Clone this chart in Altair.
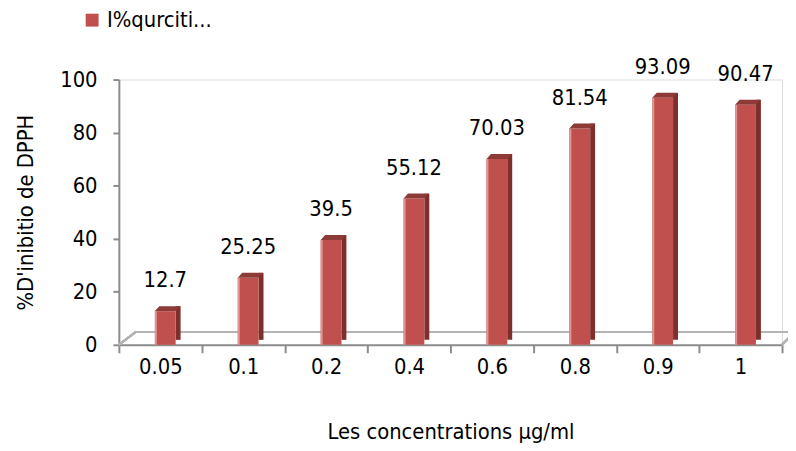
import altair as alt
import pandas as pd

categories = ["0.05", "0.1", "0.2", "0.4", "0.6", "0.8", "0.9", "1"]
values = [12.7, 25.25, 39.5, 55.12, 70.03, 81.54, 93.09, 90.47]
labels = ["12.7", "25.25", "39.5", "55.12", "70.03", "81.54", "93.09", "90.47"]
series_name = "I%qurciti..."

df = pd.DataFrame({"conc": categories, "val": values, "lab": labels, "serie": series_name})

FONT = "Liberation Sans Narrow, DejaVu Sans Condensed, Roboto, sans-serif"
W, H = 670, 268
FRONT = "#C0504D"
SIDE = "#7E2F2D"
TOP = "#8E3A37"
EDGE = "#DE9794"

x_enc = alt.X("conc:N", sort=categories, title="Les concentrations µg/ml",
              scale=alt.Scale(paddingInner=0, paddingOuter=0),
              axis=alt.Axis(labelAngle=0, tickBand="extent", domainColor="#8c8c8c",
                            tickColor="#8c8c8c", tickSize=8, tickWidth=2, domainWidth=2,
                            labelFontSize=22, labelColor="black", labelFont=FONT,
                            labelPadding=4, titleFont=FONT, titleFontSize=22,
                            titleFontWeight="normal", titleColor="black", titlePadding=45))
y_scale = alt.Scale(domain=[0, 100])

base = alt.Chart(df)

floor_back = base.mark_rule(color="#b4b4b4", strokeWidth=2).encode(
    x=alt.value(17), x2=alt.value(W + 10), y=alt.value(H - 13))
floor_left = base.mark_rule(color="#b4b4b4", strokeWidth=2).encode(
    x=alt.value(0), x2=alt.value(17), y=alt.value(H), y2=alt.value(H - 13))
floor_right = base.mark_rule(color="#b4b4b4", strokeWidth=2).encode(
    x=alt.value(W), x2=alt.value(W + 10), y=alt.value(H), y2=alt.value(H - 10))

side = base.mark_bar(color=SIDE, size=5, xOffset=18, yOffset=-5).encode(
    x=x_enc, y=alt.Y("val:Q", scale=y_scale))

front = base.mark_bar(size=21, xOffset=5).encode(
    x=x_enc,
    y=alt.Y("val:Q", scale=y_scale, title="%D'inibitio de DPPH",
            axis=alt.Axis(values=[0, 20, 40, 60, 80, 100], grid=False,
                          domainColor="#8c8c8c", tickColor="#8c8c8c", tickSize=6,
                          tickWidth=2, domainWidth=2, labelFontSize=22, labelColor="black",
                          labelFont=FONT, labelPadding=16, titleFont=FONT, titleFontSize=22,
                          titleFontWeight="normal", titleColor="black", titlePadding=22)),
    color=alt.Color("serie:N", scale=alt.Scale(range=[FRONT]),
                    legend=alt.Legend(title=None, orient="none", legendX=-38, legendY=-71,
                                      symbolType="square", symbolSize=170,
                                      symbolStrokeWidth=0, labelFontSize=22,
                                      labelFont=FONT, labelColor="black")),
)

edge = base.mark_bar(color=EDGE, size=2, xOffset=-4.5).encode(
    x=x_enc, y=alt.Y("val:Q", scale=y_scale))

top_shape = "M -0.875 0 L 0.875 0 L 1.25 -0.42 L -0.5 -0.42 Z"
top = base.mark_point(shape=top_shape, size=576, filled=True, opacity=1,
                      color=TOP, strokeWidth=0, xOffset=5).encode(
    x=x_enc, y=alt.Y("val:Q", scale=y_scale))

text = base.mark_text(dy=-19, baseline="bottom", fontSize=22, font=FONT,
                      color="black", xOffset=5).encode(
    x=x_enc, y=alt.Y("val:Q", scale=y_scale), text="lab:N")

chart = alt.layer(floor_back, floor_left, floor_right, side, front, edge, top, text).properties(
    width=W, height=H,
    autosize=alt.AutoSizeParams(type="none"),
    padding={"left": 112, "top": 70, "right": 6, "bottom": 104},
).configure_view(stroke=None).configure(background="white")

chart.save("out.html", embed_options={"renderer": "svg", "actions": False})
